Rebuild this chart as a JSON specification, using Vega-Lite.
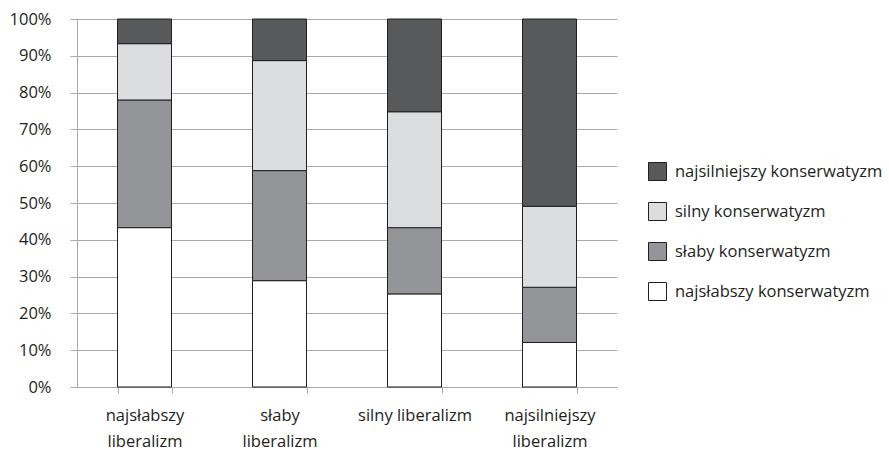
{
  "$schema": "https://vega.github.io/schema/vega-lite/v6.json",
  "width": 540,
  "height": 368,
  "autosize": "none",
  "padding": {"left": 77, "top": 19, "right": 272, "bottom": 63},
  "background": "white",
  "data": {
    "values": [
      {"lib": "najsłabszy liberalizm", "kons": "najsłabszy konserwatyzm", "rank": 1, "v": 43.3},
      {"lib": "najsłabszy liberalizm", "kons": "słaby konserwatyzm", "rank": 2, "v": 34.7},
      {"lib": "najsłabszy liberalizm", "kons": "silny konserwatyzm", "rank": 3, "v": 15.3},
      {"lib": "najsłabszy liberalizm", "kons": "najsilniejszy konserwatyzm", "rank": 4, "v": 6.7},
      {"lib": "słaby liberalizm", "kons": "najsłabszy konserwatyzm", "rank": 1, "v": 28.9},
      {"lib": "słaby liberalizm", "kons": "słaby konserwatyzm", "rank": 2, "v": 29.9},
      {"lib": "słaby liberalizm", "kons": "silny konserwatyzm", "rank": 3, "v": 29.9},
      {"lib": "słaby liberalizm", "kons": "najsilniejszy konserwatyzm", "rank": 4, "v": 11.3},
      {"lib": "silny liberalizm", "kons": "najsłabszy konserwatyzm", "rank": 1, "v": 25.3},
      {"lib": "silny liberalizm", "kons": "słaby konserwatyzm", "rank": 2, "v": 18.0},
      {"lib": "silny liberalizm", "kons": "silny konserwatyzm", "rank": 3, "v": 31.5},
      {"lib": "silny liberalizm", "kons": "najsilniejszy konserwatyzm", "rank": 4, "v": 25.2},
      {"lib": "najsilniejszy liberalizm", "kons": "najsłabszy konserwatyzm", "rank": 1, "v": 12.1},
      {"lib": "najsilniejszy liberalizm", "kons": "słaby konserwatyzm", "rank": 2, "v": 15.0},
      {"lib": "najsilniejszy liberalizm", "kons": "silny konserwatyzm", "rank": 3, "v": 22.0},
      {"lib": "najsilniejszy liberalizm", "kons": "najsilniejszy konserwatyzm", "rank": 4, "v": 50.9}
    ]
  },
  "config": {
    "font": "Open Sans",
    "view": {"stroke": null}
  },
  "mark": {"type": "bar", "stroke": "#231f20", "strokeWidth": 1},
  "encoding": {
    "x": {
      "field": "lib",
      "type": "nominal",
      "sort": ["najsłabszy liberalizm", "słaby liberalizm", "silny liberalizm", "najsilniejszy liberalizm"],
      "scale": {"paddingInner": 0.6, "paddingOuter": 0.3},
      "axis": {
        "title": null,
        "labelAngle": 0,
        "labelFont": "Open Sans",
        "labelFontSize": 16.5,
        "labelColor": "#231f20",
        "labelPadding": 14,
        "labelLineHeight": 26,
        "labelDx": -7,
        "labelExpr": "datum.label == 'silny liberalizm' ? datum.label : split(datum.label, ' ')",
        "domainColor": "#a7a9ac",
        "tickColor": "#a7a9ac",
        "tickSize": 6,
        "tickBand": "extent",
        "grid": false
      }
    },
    "y": {
      "field": "v",
      "type": "quantitative",
      "stack": "normalize",
      "scale": {"domain": [0, 1]},
      "axis": {
        "title": null,
        "format": ".0%",
        "values": [0, 0.1, 0.2, 0.3, 0.4, 0.5, 0.6, 0.7, 0.8, 0.9, 1],
        "labelFont": "Open Sans",
        "labelFontSize": 16.5,
        "labelColor": "#231f20",
        "labelPadding": 19,
        "tickSize": 7,
        "tickColor": "#a7a9ac",
        "domainColor": "#a7a9ac",
        "gridColor": "#a7a9ac",
        "grid": true
      }
    },
    "color": {
      "field": "kons",
      "type": "nominal",
      "scale": {
        "domain": ["najsilniejszy konserwatyzm", "silny konserwatyzm", "słaby konserwatyzm", "najsłabszy konserwatyzm"],
        "range": ["#58595b", "#dcddde", "#939598", "#ffffff"]
      },
      "legend": {
        "title": null,
        "orient": "none",
        "legendX": 571,
        "legendY": 143,
        "symbolType": "square",
        "symbolSize": 324,
        "symbolStrokeColor": "#231f20",
        "symbolStrokeWidth": 1,
        "labelFont": "Open Sans",
        "labelFontSize": 16.5,
        "labelColor": "#231f20",
        "labelOffset": 8,
        "rowPadding": 17,
        "labelLimit": 300
      }
    },
    "order": {"field": "rank", "type": "quantitative", "sort": "ascending"}
  }
}
